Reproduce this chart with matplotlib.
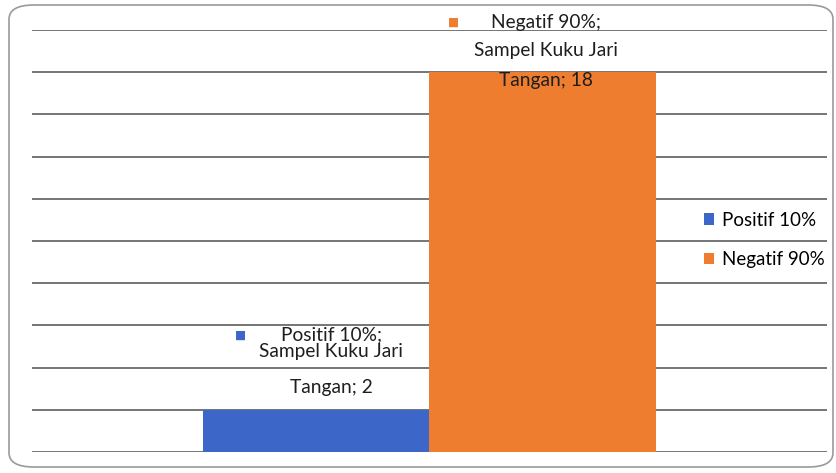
import matplotlib
matplotlib.use("Agg")
import matplotlib.pyplot as plt
from matplotlib.patches import FancyBboxPatch, Patch

categories = ["Sampel Kuku Jari Tangan"]
series_names = ["Positif 10%", "Negatif 90%"]
series_values = [2, 18]
colors = ["#3d66c9", "#ee7d2f"]
y_ticks = list(range(0, 21, 2))

plt.rcParams['font.family'] = ['Lato', 'DejaVu Sans']

W, H = 837, 473
fig = plt.figure(figsize=(W / 100, H / 100), dpi=100)

# rounded frame
frame = FancyBboxPatch((9 / W, 6 / H), (833 - 9) / W, (468 - 6) / H,
                       boxstyle="round,pad=0,rounding_size=0.03",
                       transform=fig.transFigure, facecolor="white",
                       edgecolor="#9a9a9a", linewidth=1.2, zorder=-1)
fig.patches.append(frame)

ax = fig.add_axes([32 / W, (H - 452) / H, (827 - 32) / W, (452 - 30) / H])
ax.set_facecolor("none")

bw = 0.285
offsets = [-bw / 2, bw / 2]
for i, (name, val, c) in enumerate(zip(series_names, series_values, colors)):
    ax.bar(0 + offsets[i], val, width=bw, color=c, label=name, zorder=2)

ax.set_xlim(-0.5, 0.5)
ax.set_ylim(y_ticks[0], y_ticks[-1])
ax.set_yticks(y_ticks)
ax.yaxis.grid(True, color="#505050", linewidth=1.1, zorder=1)
ax.set_axisbelow(True)
ax.tick_params(left=False, bottom=False, labelleft=False, labelbottom=False)
for s in ax.spines.values():
    s.set_visible(False)

# data labels (series name; category; value)
label_style = [
    dict(dx=15, dys=(75, 58, 22), sq=(-76, 75)),
    dict(dx=3, dys=(50, 22, -8), sq=(-89, 50)),
]
cat_parts = categories[0].rsplit(" ", 1)
for i, (name, val, c) in enumerate(zip(series_names, series_values, colors)):
    st = label_style[i]
    x = offsets[i]
    lines = [f"{name};", cat_parts[0], f"{cat_parts[1]}; {val}"]
    for line, dy in zip(lines, st["dys"]):
        ax.annotate(line, xy=(x, val), xytext=(st["dx"], dy),
                    textcoords="offset pixels", ha="center", va="center",
                    fontsize=13.8, color="#1e1e1e", zorder=5)
    ax.annotate("■", xy=(x, val), xytext=st["sq"], textcoords="offset pixels",
                ha="center", va="center", fontsize=8.5, color=c,
                family="DejaVu Sans", zorder=5)

handles = [Patch(facecolor=c, edgecolor="none") for c in colors]
fig.legend(handles, series_names, loc="center left",
           bbox_to_anchor=(704 / W, 1 - 240 / H), frameon=False,
           fontsize=13.5, labelspacing=1.2, handlelength=0.55,
           handleheight=0.55, handletextpad=0.4, borderaxespad=0,
           borderpad=0)

fig.savefig("out.png", dpi=100)
